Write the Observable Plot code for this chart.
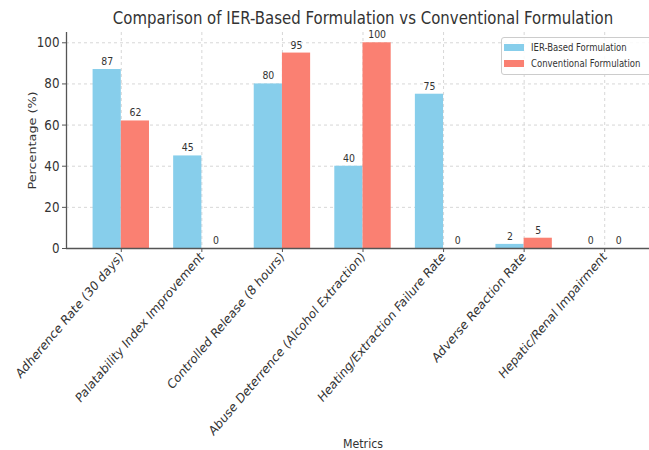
<!DOCTYPE html>
<html><head><meta charset="utf-8">
<script src="https://cdn.jsdelivr.net/npm/d3@7"></script>
<script src="https://cdn.jsdelivr.net/npm/@observablehq/plot@0.6"></script>
<style>
body{margin:0;overflow:hidden;background:#fff;font-family:"DejaVu Sans",sans-serif;}
#wrap{position:relative;width:649px;height:450px;overflow:hidden;}
#wrap svg{overflow:visible;}
.legend{position:absolute;left:501px;top:37px;width:170px;height:36px;border:1px solid #ccc;border-radius:3px;background:rgba(255,255,255,0.85);font-size:10px;color:#333;}
.legend .row{position:absolute;left:2px;height:12px;display:flex;align-items:center;white-space:nowrap;}
.legend .sw{width:20px;height:7px;margin-right:7px;flex:none;}
.legend .lt{display:inline-block;transform:scaleX(0.85);transform-origin:left center;}
</style></head><body><div id="wrap"></div>
<script>
const categories = ["Adherence Rate (30 days)","Palatability Index Improvement","Controlled Release (8 hours)","Abuse Deterrence (Alcohol Extraction)","Heating/Extraction Failure Rate","Adverse Reaction Rate","Hepatic/Renal Impairment"];
const ierValues = [87,45,80,40,75,2,0];
const convValues = [62,0,95,100,0,5,0];
const seriesNames = ["IER-Based Formulation","Conventional Formulation"];
const seriesColors = ["#87CEEB","#FA8072"];
const yTicks = [0,20,40,60,80,100];
const titleText = "Comparison of IER-Based Formulation vs Conventional Formulation";
const xLabel = "Metrics";
const yLabel = "Percentage (%)";

const barWidth = 0.35;
const squeeze = 0.85;
const rows = [];
categories.forEach((c,i)=>{
  rows.push({i, cat:c, series:seriesNames[0], value:ierValues[i], x1:i-barWidth, x2:i});
  rows.push({i, cat:c, series:seriesNames[1], value:convValues[i], x1:i, x2:i+barWidth});
});
const xDomain = [-0.68, categories.length-1+0.68];
const idx = d3.range(categories.length);

const chart = Plot.plot({
  width:649, height:450,
  marginLeft:66, marginTop:32, marginBottom:202, marginRight:0,
  style:{fontFamily:"DejaVu Sans, sans-serif", color:"#333", background:"transparent", overflow:"visible"},
  x:{type:"linear", domain:xDomain, range:[66,659]},
  y:{domain:[0,105], range:[248,32]},
  color:{domain:seriesNames, range:seriesColors},
  marks:[
    Plot.gridY(yTicks,{stroke:"#c4c4c4", strokeOpacity:1, strokeDasharray:"3,3", strokeWidth:0.7}),
    Plot.gridX(idx,{stroke:"#c4c4c4", strokeOpacity:1, strokeDasharray:"3,3", strokeWidth:0.7}),
    Plot.rectY(rows,{x1:"x1", x2:"x2", y1:0, y2:"value", fill:"series"}),
    Plot.text(rows,{x:d=>(d.x1+d.x2)/2, y:"value", text:d=>String(d.value), dy:-8, fontSize:11, fill:"#333"}),
    Plot.ruleY([0],{stroke:"#555", strokeWidth:1.3}),
    Plot.ruleX([xDomain[0]],{stroke:"#555", strokeWidth:1.3}),
    Plot.axisY(yTicks,{tickSize:4, tickPadding:3, fontSize:14, label:null, stroke:"#555"}),
    Plot.axisX(idx,{tickFormat:i=>categories[i], tickRotate:-45, tickSize:4, tickPadding:2, fontSize:13.2, label:null, stroke:"#555"}),
    Plot.text([titleText],{frameAnchor:"top", dx:5, dy:-21, fontSize:17.6, fill:"#333"}),
    Plot.text([xLabel],{frameAnchor:"bottom", dx:5, dy:199, fontSize:13, fill:"#333"}),
    Plot.text([yLabel],{frameAnchor:"left", textAnchor:"middle", dx:-34, rotate:-90, fontSize:12.8, fill:"#333"})
  ]
});
// the reference picture is horizontally compressed: squeeze every text along screen x
chart.querySelectorAll("text").forEach(t=>{
  const tr = t.getAttribute("transform");
  if (tr && /translate\([^)]*\)/.test(tr)) {
    t.setAttribute("transform", tr.replace(/(translate\([^)]*\))/, `$1 scale(${squeeze},1)`));
  } else {
    const x = +t.getAttribute("x")||0, y = +t.getAttribute("y")||0;
    t.removeAttribute("x"); t.removeAttribute("y");
    t.setAttribute("transform", `translate(${x},${y}) scale(${squeeze},1)` + (tr?(" "+tr):""));
  }
});
const wrap = document.getElementById("wrap");
wrap.appendChild(chart);
const lg = document.createElement("div");
lg.className = "legend";
seriesNames.forEach((s,k)=>{
  const r = document.createElement("div");
  r.className="row";
  r.style.top = (3+k*16)+"px";
  r.innerHTML = `<span class="sw" style="background:${seriesColors[k]}"></span><span class="lt">${s}</span>`;
  lg.appendChild(r);
});
wrap.appendChild(lg);
</script></body></html>
